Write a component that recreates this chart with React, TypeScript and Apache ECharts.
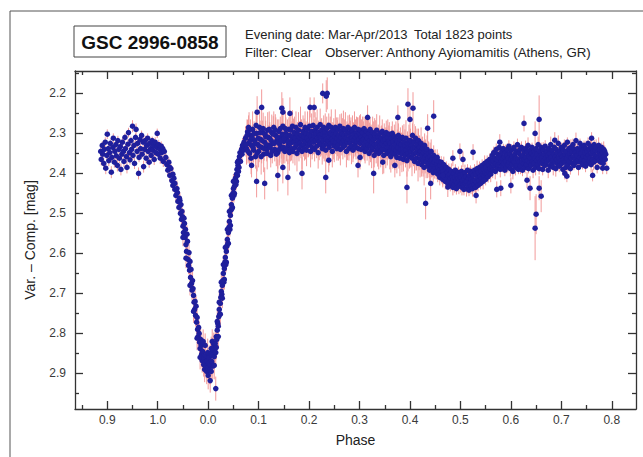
import React, { useEffect, useRef } from "react";
import * as echarts from "echarts";

// Plotted phase coordinate: -0.2 is labelled "0.9", -0.1 "1.0", 0.0 "0.0", ...
const xTickValues = [-0.2, -0.1, 0, 0.1, 0.2, 0.3, 0.4, 0.5, 0.6, 0.7, 0.8];
const xTickLabels = ["0.9", "1.0", "0.0", "0.1", "0.2", "0.3", "0.4", "0.5", "0.6", "0.7", "0.8"];
const xMinorValues = [-0.25, -0.15, -0.05, 0.05, 0.15, 0.25, 0.35, 0.45, 0.55, 0.65, 0.75];
const yTickValues = [2.2, 2.3, 2.4, 2.5, 2.6, 2.7, 2.8, 2.9];
const yMinorValues = [2.15, 2.25, 2.35, 2.45, 2.55, 2.65, 2.75, 2.85, 2.95];

// [phase, Var-Comp mag, error]
const preEclipse = [
  [-0.213,2.345,.012],[-0.212,2.365,.015],[-0.210,2.330,.01],[-0.209,2.352,.012],[-0.207,2.375,.015],[-0.206,2.340,.01],[-0.204,2.322,.012],[-0.203,2.387,.015],[-0.201,2.355,.01],[-0.200,2.302,.012],
  [-0.198,2.338,.01],[-0.197,2.368,.014],[-0.195,2.348,.012],[-0.194,2.325,.01],[-0.192,2.397,.015],[-0.191,2.360,.012],[-0.189,2.335,.01],[-0.188,2.312,.012],[-0.186,2.372,.014],[-0.185,2.345,.01],
  [-0.183,2.328,.012],[-0.182,2.356,.01],[-0.180,2.380,.015],[-0.179,2.318,.012],[-0.177,2.340,.01],[-0.176,2.362,.012],[-0.174,2.333,.01],[-0.173,2.390,.015],[-0.171,2.352,.012],[-0.170,2.322,.01],
  [-0.168,2.345,.012],[-0.167,2.370,.014],[-0.165,2.310,.01],[-0.164,2.338,.012],[-0.162,2.358,.01],[-0.161,2.385,.015],[-0.159,2.327,.012],[-0.158,2.298,.012],[-0.156,2.348,.01],[-0.155,2.366,.012],
  [-0.153,2.318,.01],[-0.152,2.340,.012],[-0.150,2.282,.015],[-0.149,2.355,.01],[-0.147,2.330,.012],[-0.146,2.375,.014],[-0.144,2.310,.01],[-0.143,2.290,.015],[-0.141,2.345,.012],[-0.140,2.325,.01],
  [-0.138,2.400,.015],[-0.137,2.360,.012],[-0.135,2.315,.01],[-0.134,2.338,.012],[-0.132,2.305,.012],[-0.131,2.352,.01],[-0.129,2.322,.012],[-0.128,2.383,.015],[-0.126,2.340,.01],[-0.125,2.318,.012],
  [-0.123,2.362,.012],[-0.122,2.330,.01],[-0.120,2.312,.012],[-0.119,2.345,.01],[-0.117,2.372,.014],[-0.116,2.325,.012],[-0.114,2.338,.01],[-0.113,2.355,.012],[-0.111,2.318,.01],[-0.110,2.342,.012],
  [-0.108,2.330,.01],[-0.107,2.365,.014],[-0.105,2.322,.012],[-0.104,2.348,.01],[-0.102,2.335,.012],[-0.101,2.300,.012],[-0.099,2.352,.01],[-0.098,2.328,.012],[-0.096,2.340,.01],[-0.095,2.362,.014],
  [-0.093,2.332,.012],[-0.092,2.348,.01],[-0.090,2.338,.012],[-0.089,2.370,.014],[-0.087,2.345,.012]
];

const ingress = [
  [-0.084,2.360,.015],[-0.082,2.378,.012],[-0.080,2.392,.015],[-0.078,2.372,.012],[-0.076,2.405,.015],[-0.074,2.388,.012],[-0.072,2.418,.018],[-0.070,2.430,.015],[-0.068,2.412,.015],[-0.066,2.440,.018],
  [-0.064,2.455,.015],[-0.062,2.438,.02],[-0.060,2.470,.018],[-0.058,2.485,.015],[-0.056,2.468,.02],[-0.055,2.500,.018],[-0.053,2.515,.02],[-0.052,2.495,.015],[-0.050,2.532,.02],[-0.049,2.548,.018],
  [-0.047,2.525,.02],[-0.046,2.560,.022],[-0.044,2.578,.02],[-0.043,2.595,.018],[-0.041,2.570,.022],[-0.040,2.615,.02],[-0.039,2.630,.022],[-0.037,2.642,.02],[-0.036,2.620,.025],[-0.035,2.660,.022],
  [-0.033,2.675,.02],[-0.032,2.692,.025],[-0.031,2.668,.022],[-0.029,2.705,.025],[-0.028,2.722,.022],[-0.027,2.740,.025],[-0.025,2.755,.028],[-0.024,2.732,.025],[-0.023,2.772,.028],[-0.021,2.790,.025],
  [-0.020,2.808,.03],[-0.019,2.785,.028],[-0.017,2.822,.03],[-0.016,2.838,.028],[-0.015,2.815,.03],[-0.013,2.852,.032],[-0.012,2.868,.03],[-0.011,2.845,.032],[-0.009,2.878,.03],
  [-0.076,2.385,.015],[-0.070,2.402,.018],[-0.066,2.425,.015],[-0.061,2.448,.02],[-0.057,2.462,.018],[-0.054,2.478,.02],[-0.051,2.508,.02],[-0.048,2.512,.022],[-0.045,2.540,.02],[-0.042,2.552,.022],
  [-0.038,2.598,.022],[-0.034,2.640,.025],[-0.030,2.688,.025],[-0.026,2.720,.028],[-0.022,2.760,.028],[-0.018,2.800,.03],[-0.014,2.830,.03],[-0.010,2.858,.03],
  [-0.050,2.560,.022],[-0.044,2.612,.025],[-0.036,2.680,.025],[-0.029,2.745,.028],[-0.022,2.812,.03],[-0.016,2.860,.03]
];

const primaryMinimum = [
  [-0.008,2.862,.03],[-0.007,2.890,.032],[-0.006,2.872,.03],[-0.005,2.855,.035],[-0.004,2.882,.03],[-0.003,2.895,.032],[-0.002,2.868,.03],[-0.001,2.848,.035],[0.000,2.885,.03],[0.001,2.875,.032],
  [0.002,2.860,.03],[0.003,2.892,.035],[0.004,2.878,.03],[0.005,2.850,.032],[0.006,2.838,.03],[0.007,2.870,.035],[0.008,2.855,.03],[0.009,2.882,.032],[0.010,2.842,.03],[0.011,2.828,.03],
  [0.004,2.918,.03],[0.015,2.938,.03],[-0.006,2.830,.03],[0.000,2.905,.035],[0.006,2.895,.03],[-0.010,2.820,.03],[0.008,2.820,.03],[0.012,2.880,.035]
];

const egress = [
  [0.012,2.858,.03],[0.013,2.840,.03],[0.014,2.825,.032],[0.015,2.848,.03],[0.016,2.808,.028],[0.017,2.815,.03],[0.018,2.792,.028],[0.019,2.775,.025],[0.020,2.782,.028],[0.021,2.758,.025],
  [0.022,2.740,.025],[0.023,2.752,.028],[0.024,2.725,.025],[0.025,2.710,.022],[0.026,2.695,.025],[0.027,2.702,.022],[0.028,2.680,.022],[0.029,2.668,.025],[0.030,2.650,.022],[0.031,2.672,.02],
  [0.032,2.638,.022],[0.033,2.622,.02],[0.034,2.610,.022],[0.035,2.628,.02],[0.036,2.595,.02],[0.037,2.582,.022],[0.038,2.565,.02],[0.039,2.575,.018],[0.040,2.548,.02],[0.041,2.535,.018],
  [0.042,2.520,.02],[0.043,2.540,.018],[0.044,2.505,.02],[0.045,2.492,.018],[0.046,2.478,.015],[0.047,2.488,.018],[0.048,2.462,.015],[0.049,2.450,.018],[0.050,2.438,.015],[0.051,2.455,.018],
  [0.052,2.432,.015],[0.053,2.422,.018],[0.054,2.412,.015],[0.055,2.428,.015],[0.056,2.402,.018],[0.057,2.390,.015],[0.058,2.405,.015],[0.059,2.380,.018],[0.060,2.368,.015],[0.061,2.385,.015],
  [0.062,2.358,.018],[0.063,2.348,.015],[0.064,2.370,.015],[0.066,2.340,.018],[0.067,2.352,.015],[0.068,2.330,.018],[0.070,2.342,.015],[0.071,2.322,.018],[0.072,2.332,.015],
  [0.016,2.835,.03],[0.020,2.808,.028],[0.024,2.752,.028],[0.028,2.712,.025],[0.032,2.665,.025],[0.036,2.622,.022],[0.040,2.575,.022],[0.044,2.530,.02],[0.048,2.485,.02],[0.052,2.450,.018],
  [0.056,2.420,.018],[0.060,2.395,.015],[0.018,2.770,.028],[0.022,2.722,.025],[0.026,2.672,.025],[0.030,2.628,.022],[0.034,2.585,.022],[0.038,2.540,.02],[0.042,2.495,.02],[0.046,2.455,.018],
  [0.050,2.420,.018],[0.058,2.372,.015]
];

const plateauA = [
  [0.074,2.312,.03],[0.076,2.338,.04],[0.078,2.296,.03],[0.080,2.325,.045],[0.082,2.350,.03],[0.084,2.305,.04],[0.086,2.330,.03],[0.088,2.290,.045],[0.090,2.342,.03],[0.092,2.318,.04],
  [0.094,2.358,.03],[0.096,2.300,.045],[0.098,2.327,.03],[0.100,2.345,.04],[0.102,2.285,.045],[0.104,2.315,.03],[0.106,2.335,.04],[0.108,2.298,.03],[0.110,2.352,.045],[0.112,2.322,.03],
  [0.114,2.308,.04],[0.116,2.340,.03],[0.118,2.292,.045],[0.120,2.330,.03],[0.122,2.312,.04],[0.124,2.355,.03],[0.126,2.298,.045],[0.128,2.325,.03],[0.130,2.285,.04],[0.132,2.340,.03],
  [0.134,2.305,.045],[0.136,2.318,.03],[0.138,2.348,.04],[0.140,2.295,.03],[0.142,2.328,.045],[0.144,2.310,.03],[0.146,2.338,.04],[0.148,2.282,.03],[0.150,2.320,.045],[0.152,2.345,.03],
  [0.154,2.300,.04],[0.156,2.315,.03],[0.158,2.332,.045],[0.160,2.290,.03],
  [0.075,2.328,.03],[0.077,2.305,.04],[0.079,2.345,.03],[0.081,2.292,.045],[0.083,2.318,.03],[0.085,2.362,.04],[0.087,2.310,.03],[0.089,2.335,.045],[0.091,2.300,.03],[0.093,2.325,.04],
  [0.095,2.280,.03],[0.097,2.350,.045],[0.099,2.312,.03],[0.101,2.332,.04],[0.103,2.298,.03],[0.105,2.358,.045],[0.107,2.318,.03],[0.109,2.288,.04],[0.111,2.338,.03],[0.113,2.302,.045],
  [0.115,2.328,.03],[0.117,2.350,.04],[0.119,2.310,.03],[0.121,2.290,.045],[0.123,2.335,.03],[0.125,2.318,.04],[0.127,2.345,.03],[0.129,2.302,.045],[0.131,2.325,.03],[0.133,2.292,.04],
  [0.135,2.352,.03],[0.137,2.310,.045],[0.139,2.322,.03],[0.141,2.340,.04],[0.143,2.288,.03],[0.145,2.318,.045],[0.147,2.302,.03],[0.149,2.335,.04],[0.151,2.312,.03],[0.153,2.288,.045],
  [0.155,2.340,.03],[0.157,2.305,.04],[0.159,2.322,.03],[0.161,2.348,.045]
];

const plateauB = [
  [0.162,2.305,.03],[0.163,2.325,.045],[0.164,2.292,.04],[0.165,2.338,.03],[0.166,2.315,.045],[0.167,2.282,.04],[0.168,2.345,.03],[0.169,2.308,.045],[0.170,2.322,.03],[0.171,2.298,.04],
  [0.172,2.335,.045],[0.173,2.312,.03],[0.174,2.285,.04],[0.175,2.328,.03],[0.176,2.350,.045],[0.177,2.302,.03],[0.178,2.318,.04],[0.179,2.292,.045],[0.180,2.340,.03],[0.181,2.310,.04],
  [0.182,2.325,.03],[0.183,2.278,.045],[0.184,2.332,.03],[0.185,2.305,.04],[0.186,2.345,.045],[0.187,2.315,.03],[0.188,2.295,.04],[0.189,2.328,.03],[0.190,2.308,.045],[0.191,2.338,.03],
  [0.192,2.285,.04],[0.193,2.320,.045],[0.194,2.300,.03],[0.195,2.342,.04],[0.196,2.312,.03],[0.197,2.290,.045],[0.198,2.330,.03],[0.199,2.318,.04],[0.200,2.302,.03],[0.201,2.282,.045],
  [0.202,2.325,.03],[0.203,2.345,.04],[0.204,2.308,.03],[0.205,2.295,.045],[0.206,2.335,.03],[0.207,2.315,.04],[0.208,2.280,.045],[0.209,2.322,.03],[0.210,2.305,.04],[0.211,2.340,.03],
  [0.212,2.292,.045],[0.213,2.318,.03],[0.214,2.300,.04],[0.215,2.332,.03],[0.216,2.285,.045],[0.217,2.312,.03],[0.218,2.348,.04],[0.219,2.298,.03],[0.220,2.322,.045],[0.221,2.305,.03],
  [0.222,2.278,.04],[0.223,2.328,.03],[0.224,2.310,.045],[0.225,2.292,.03],[0.226,2.338,.04],[0.227,2.302,.03],[0.228,2.318,.045],[0.229,2.285,.03],[0.230,2.330,.04],[0.231,2.308,.03],
  [0.232,2.295,.045],[0.233,2.342,.03],[0.234,2.315,.04],[0.235,2.288,.03],[0.236,2.325,.045],[0.237,2.302,.03],[0.238,2.318,.04],[0.239,2.280,.03],[0.240,2.335,.045],[0.241,2.310,.03],
  [0.242,2.298,.04],[0.243,2.325,.03],[0.244,2.285,.045],[0.245,2.315,.03],[0.246,2.345,.04],[0.247,2.302,.03],[0.248,2.320,.045],[0.249,2.292,.03],[0.250,2.332,.04],[0.251,2.308,.03],
  [0.252,2.285,.045],[0.253,2.322,.03],[0.254,2.300,.04],[0.255,2.338,.03],[0.256,2.312,.045],[0.257,2.290,.03],[0.258,2.328,.04],[0.259,2.305,.03],[0.260,2.318,.045],[0.261,2.282,.03],
  [0.262,2.340,.04],[0.263,2.310,.03],[0.264,2.295,.045],[0.265,2.325,.03],[0.266,2.302,.04],[0.267,2.335,.03],[0.268,2.288,.045],[0.269,2.318,.03],[0.270,2.305,.04],[0.271,2.330,.03],
  [0.272,2.292,.045],[0.273,2.312,.03],[0.274,2.345,.04],[0.275,2.300,.03],[0.276,2.322,.045],[0.277,2.285,.03],[0.278,2.315,.04],[0.279,2.338,.03],[0.280,2.298,.045],[0.281,2.325,.03],
  [0.282,2.308,.04],[0.283,2.290,.03],[0.284,2.332,.045],[0.285,2.312,.03],[0.286,2.295,.04],[0.287,2.342,.03],[0.288,2.318,.045],[0.289,2.302,.03],[0.290,2.285,.04],[0.291,2.328,.03],
  [0.292,2.310,.045],[0.293,2.335,.03],[0.294,2.298,.04],[0.295,2.320,.03],[0.296,2.305,.045],[0.297,2.290,.03],[0.298,2.338,.04],[0.299,2.315,.03],[0.300,2.300,.045]
];

const plateauC = [
  [0.301,2.325,.03],[0.302,2.292,.04],[0.303,2.340,.03],[0.304,2.310,.045],[0.305,2.318,.03],[0.306,2.298,.04],[0.307,2.335,.03],[0.308,2.315,.045],[0.309,2.288,.03],[0.310,2.328,.04],
  [0.311,2.345,.03],[0.312,2.305,.045],[0.313,2.320,.03],[0.314,2.295,.04],[0.315,2.338,.03],[0.316,2.312,.045],[0.317,2.328,.03],[0.318,2.300,.04],[0.319,2.350,.03],[0.320,2.318,.045],
  [0.321,2.290,.03],[0.322,2.332,.04],[0.323,2.308,.03],[0.324,2.342,.045],[0.325,2.322,.03],[0.326,2.298,.04],[0.327,2.335,.03],[0.328,2.315,.045],[0.329,2.355,.03],[0.330,2.302,.04],
  [0.331,2.328,.03],[0.332,2.312,.045],[0.333,2.345,.03],[0.334,2.292,.04],[0.335,2.325,.03],[0.336,2.338,.045],[0.337,2.308,.03],[0.338,2.350,.04],[0.339,2.318,.03],[0.340,2.300,.045],
  [0.341,2.332,.03],[0.342,2.345,.04],[0.343,2.312,.03],[0.344,2.325,.045],[0.345,2.295,.03],[0.346,2.340,.04],[0.347,2.318,.03],[0.348,2.355,.045],[0.349,2.305,.03],[0.350,2.330,.04],
  [0.351,2.315,.03],[0.352,2.342,.045],[0.353,2.298,.03],[0.354,2.325,.04],[0.355,2.350,.03],[0.356,2.310,.045],[0.357,2.335,.03],[0.358,2.320,.04],[0.359,2.302,.03],[0.360,2.345,.045],
  [0.361,2.325,.03],[0.362,2.358,.04],[0.363,2.312,.03],[0.364,2.335,.045],[0.365,2.300,.03],[0.366,2.348,.04],[0.367,2.322,.03],[0.368,2.338,.045],[0.369,2.308,.03],[0.370,2.352,.04],
  [0.371,2.328,.03],[0.372,2.315,.045],[0.373,2.342,.03],[0.374,2.360,.04],[0.375,2.320,.03],[0.376,2.335,.045],[0.377,2.305,.03],[0.378,2.348,.04],[0.379,2.325,.03],[0.380,2.362,.045],
  [0.381,2.315,.03],[0.382,2.340,.04],[0.383,2.328,.03],[0.384,2.352,.045],[0.385,2.310,.03],[0.386,2.338,.04],[0.387,2.365,.03],[0.388,2.322,.045],[0.389,2.345,.03],[0.390,2.330,.04],
  [0.391,2.355,.03],[0.392,2.312,.045],[0.393,2.342,.03],[0.394,2.368,.04],[0.395,2.325,.03],[0.396,2.350,.045],[0.397,2.335,.03],[0.398,2.318,.04],[0.399,2.358,.03],[0.400,2.340,.045]
];

const decline = [
  [0.401,2.318,.03],[0.402,2.345,.04],[0.403,2.330,.03],[0.404,2.362,.045],[0.405,2.305,.03],[0.406,2.338,.04],[0.407,2.352,.03],[0.408,2.322,.045],[0.409,2.370,.03],[0.410,2.335,.04],
  [0.411,2.312,.03],[0.412,2.348,.045],[0.413,2.362,.03],[0.414,2.328,.04],[0.415,2.340,.03],[0.416,2.375,.045],[0.417,2.318,.03],[0.418,2.352,.04],[0.419,2.335,.03],[0.420,2.365,.045],
  [0.421,2.345,.03],[0.422,2.325,.04],[0.423,2.378,.03],[0.424,2.355,.045],[0.425,2.338,.03],[0.426,2.368,.04],[0.427,2.348,.03],[0.428,2.385,.045],[0.429,2.330,.03],[0.430,2.360,.04],
  [0.431,2.345,.03],[0.432,2.372,.04],[0.433,2.355,.03],[0.434,2.340,.035],[0.435,2.382,.03],[0.436,2.362,.04],[0.437,2.350,.03],[0.438,2.375,.035],[0.439,2.392,.03],[0.440,2.358,.035],
  [0.441,2.370,.025],[0.442,2.345,.03],[0.443,2.385,.025],[0.444,2.365,.025],[0.445,2.378,.03],[0.446,2.398,.025],[0.447,2.355,.025],[0.448,2.372,.03],[0.449,2.388,.025],[0.450,2.365,.025],
  [0.452,2.395,.02],[0.453,2.378,.015],[0.454,2.360,.02],[0.455,2.402,.02],[0.456,2.385,.015],[0.457,2.370,.02],[0.458,2.392,.015],[0.459,2.410,.02],[0.460,2.380,.015],[0.461,2.398,.02],
  [0.462,2.372,.015],[0.463,2.405,.02],[0.464,2.388,.015],[0.465,2.415,.02],[0.466,2.395,.015],[0.467,2.378,.02],[0.468,2.408,.015],[0.469,2.392,.015],[0.470,2.420,.02],[0.471,2.400,.015],
  [0.472,2.385,.015],[0.473,2.412,.02],[0.474,2.398,.015],[0.475,2.425,.015],[0.476,2.405,.02],[0.477,2.390,.015],[0.478,2.418,.015],[0.479,2.402,.02],[0.480,2.430,.015],[0.481,2.412,.015],
  [0.482,2.395,.02],[0.483,2.422,.015],[0.484,2.408,.015],[0.485,2.435,.02],[0.486,2.415,.015],[0.487,2.400,.015],[0.488,2.428,.02],[0.489,2.410,.015],[0.490,2.392,.015],[0.491,2.420,.02],
  [0.492,2.438,.015],[0.493,2.405,.015],[0.494,2.425,.02],[0.495,2.412,.015],[0.496,2.398,.015],[0.497,2.432,.02],[0.498,2.418,.015],[0.499,2.405,.015],[0.500,2.428,.02]
];

const secondaryMinimum = [
  [0.501,2.410,.015],[0.502,2.395,.015],[0.503,2.435,.02],[0.504,2.418,.015],[0.505,2.402,.015],[0.506,2.428,.02],[0.507,2.440,.015],[0.508,2.412,.015],[0.509,2.398,.02],[0.510,2.425,.015],
  [0.511,2.408,.015],[0.512,2.438,.02],[0.513,2.420,.015],[0.514,2.392,.015],[0.515,2.430,.02],[0.516,2.412,.015],[0.517,2.442,.015],[0.518,2.405,.02],[0.519,2.425,.015],[0.520,2.395,.015],
  [0.521,2.432,.02],[0.522,2.415,.015],[0.523,2.400,.015],[0.524,2.438,.02],[0.525,2.420,.015],[0.526,2.405,.015],[0.527,2.428,.02],[0.528,2.392,.015],[0.529,2.418,.015],[0.530,2.435,.02],
  [0.531,2.402,.015],[0.532,2.422,.015],[0.533,2.388,.02],[0.534,2.412,.015],[0.535,2.430,.015],[0.536,2.398,.02],[0.537,2.418,.015],[0.538,2.385,.015],[0.539,2.408,.02],[0.540,2.425,.015],
  [0.541,2.395,.015],[0.542,2.412,.02],[0.543,2.380,.015],[0.544,2.402,.015],[0.545,2.420,.02],[0.546,2.390,.015],[0.547,2.405,.015],[0.548,2.375,.02],[0.549,2.398,.015],[0.550,2.415,.015],
  [0.551,2.385,.02],[0.552,2.400,.015],[0.553,2.370,.015],[0.554,2.392,.02],[0.555,2.408,.015],[0.556,2.378,.015],[0.557,2.395,.02],[0.558,2.365,.015],[0.559,2.388,.015],[0.560,2.402,.02]
];

const postSecondary = [
  [0.561,2.372,.015],[0.562,2.385,.012],[0.563,2.355,.015],[0.564,2.392,.02],[0.565,2.368,.012],[0.566,2.348,.015],[0.567,2.380,.012],[0.568,2.362,.015],[0.569,2.395,.02],[0.570,2.375,.012],
  [0.571,2.340,.015],[0.572,2.365,.012],[0.573,2.388,.015],[0.574,2.352,.02],[0.575,2.378,.012],[0.576,2.360,.015],[0.577,2.335,.012],[0.578,2.372,.015],[0.579,2.390,.02],[0.580,2.355,.012],
  [0.581,2.368,.015],[0.582,2.345,.012],[0.583,2.382,.015],[0.584,2.362,.02],[0.585,2.338,.012],[0.586,2.375,.015],[0.587,2.358,.012],[0.588,2.392,.015],[0.589,2.348,.02],[0.590,2.370,.012],
  [0.591,2.385,.015],[0.592,2.355,.012],[0.593,2.340,.015],[0.594,2.378,.02],[0.595,2.362,.012],[0.596,2.332,.015],[0.597,2.372,.012],[0.598,2.350,.015],[0.599,2.388,.02],[0.600,2.365,.012],
  [0.601,2.342,.015],[0.602,2.378,.012],[0.603,2.358,.015],[0.604,2.395,.02],[0.605,2.368,.012],[0.606,2.335,.015],[0.607,2.372,.012],[0.608,2.352,.015],[0.609,2.385,.02],[0.610,2.362,.012],
  [0.611,2.345,.015],[0.612,2.380,.012],[0.613,2.328,.015],[0.614,2.365,.02],[0.615,2.390,.012],[0.616,2.350,.015],[0.617,2.372,.012],[0.618,2.340,.015],[0.619,2.382,.02],[0.620,2.358,.012],
  [0.621,2.335,.015],[0.622,2.370,.012],[0.623,2.392,.015],[0.624,2.355,.02],[0.625,2.375,.012],[0.626,2.345,.015],[0.627,2.365,.012],[0.628,2.385,.015],[0.629,2.338,.02],[0.630,2.360,.012],
  [0.631,2.378,.015],[0.632,2.348,.012],[0.633,2.368,.015],[0.634,2.330,.02],[0.635,2.388,.012],[0.636,2.358,.015],[0.637,2.372,.012],[0.638,2.342,.015],[0.639,2.362,.02],[0.640,2.380,.012],
  [0.641,2.350,.015],[0.642,2.335,.012],[0.643,2.370,.015],[0.644,2.392,.02],[0.645,2.355,.012],[0.646,2.375,.015],[0.647,2.345,.012],[0.648,2.362,.015],[0.649,2.385,.02],[0.650,2.338,.012],
  [0.651,2.368,.015],[0.652,2.352,.012],[0.653,2.378,.015],[0.654,2.328,.02],[0.655,2.362,.012],[0.656,2.388,.015],[0.657,2.345,.012],[0.658,2.372,.015],[0.659,2.355,.02],[0.660,2.335,.012],
  [0.661,2.375,.015],[0.662,2.360,.012],[0.663,2.390,.015],[0.664,2.342,.02],[0.665,2.368,.012],[0.666,2.352,.015],[0.667,2.380,.012],[0.668,2.332,.015],[0.669,2.362,.02],[0.670,2.378,.012],
  [0.671,2.345,.015],[0.672,2.370,.012],[0.673,2.355,.015],[0.674,2.392,.02],[0.675,2.338,.012],[0.676,2.365,.015],[0.677,2.350,.012],[0.678,2.382,.015],[0.679,2.328,.02],[0.680,2.360,.012],
  [0.681,2.375,.015],[0.682,2.342,.012],[0.683,2.368,.015],[0.684,2.385,.02],[0.685,2.352,.012],[0.686,2.335,.015],[0.687,2.372,.012],[0.688,2.358,.015],[0.689,2.388,.02],[0.690,2.340,.012],
  [0.691,2.365,.015],[0.692,2.348,.012],[0.693,2.378,.015],[0.694,2.325,.02],[0.695,2.360,.012],[0.696,2.382,.015],[0.697,2.345,.012],[0.698,2.370,.015],[0.699,2.352,.02],[0.700,2.335,.012],
  [0.701,2.375,.015],[0.702,2.358,.012],[0.703,2.390,.015],[0.704,2.342,.02],[0.705,2.365,.012],[0.706,2.330,.015],[0.707,2.372,.012],[0.708,2.352,.015],[0.709,2.385,.02],[0.710,2.345,.012],
  [0.711,2.362,.015],[0.712,2.322,.012],[0.713,2.378,.015],[0.714,2.355,.02],[0.715,2.338,.012],[0.716,2.370,.015],[0.717,2.350,.012],[0.718,2.388,.015],[0.719,2.335,.02],[0.720,2.362,.012],
  [0.721,2.345,.015],[0.722,2.375,.012],[0.723,2.328,.015],[0.724,2.358,.02],[0.725,2.380,.012],[0.726,2.340,.015],[0.727,2.365,.012],[0.728,2.348,.015],[0.729,2.318,.02],[0.730,2.372,.012],
  [0.731,2.355,.015],[0.732,2.338,.012],[0.733,2.368,.015],[0.734,2.385,.02],[0.735,2.345,.012],[0.736,2.360,.015],[0.737,2.325,.012],[0.738,2.372,.015],[0.739,2.350,.02],[0.740,2.335,.012],
  [0.741,2.365,.015],[0.742,2.378,.012],[0.743,2.342,.015],[0.744,2.358,.02],[0.745,2.330,.012],[0.746,2.368,.015],[0.747,2.348,.012],[0.748,2.382,.015],[0.749,2.338,.02],[0.750,2.360,.012],
  [0.751,2.345,.015],[0.752,2.375,.012],[0.753,2.325,.015],[0.754,2.355,.02],[0.755,2.368,.012],[0.756,2.340,.015],[0.757,2.362,.012],[0.758,2.332,.015],[0.759,2.378,.02],[0.760,2.350,.012],
  [0.761,2.338,.015],[0.762,2.365,.012],[0.763,2.345,.015],[0.764,2.372,.02],[0.765,2.328,.012],[0.766,2.355,.015],[0.767,2.342,.012],[0.768,2.368,.015],[0.769,2.335,.02],[0.770,2.358,.012],
  [0.771,2.385,.015],[0.772,2.345,.012],[0.773,2.362,.015],[0.774,2.330,.02],[0.775,2.368,.012],[0.776,2.350,.015],[0.777,2.340,.012],[0.778,2.372,.015],[0.779,2.355,.02],[0.780,2.335,.012],
  [0.781,2.362,.015],[0.782,2.348,.012],[0.783,2.375,.015],[0.784,2.340,.02],[0.785,2.358,.012],[0.786,2.345,.015],[0.787,2.365,.012],[0.788,2.352,.015]
];

const outliers = [
  [0.227,2.200,.025],[0.236,2.200,.04],[0.234,2.207,.04],[0.097,2.247,.04],[0.106,2.235,.045],[0.146,2.237,.04],[0.148,2.247,.035],
  [0.202,2.235,.025],[0.210,2.235,.025],[0.162,2.250,.04],[0.396,2.227,.04],[0.406,2.237,.04],[0.400,2.265,.04],[0.376,2.260,.03],
  [0.316,2.260,.03],[0.080,2.285,.03],[0.447,2.257,.04],[0.435,2.287,.035],
  [0.096,2.420,.04],[0.112,2.425,.04],[0.158,2.410,.045],[0.186,2.400,.04],[0.233,2.410,.04],[0.297,2.380,.03],[0.328,2.400,.05],
  [0.394,2.435,.04],[0.431,2.475,.04],[0.441,2.425,.04],[0.465,2.405,.025],[0.475,2.434,.025],[0.086,2.380,.03],[0.138,2.405,.04],
  [0.148,2.385,.04],[0.239,2.367,.03],[0.301,2.360,.03],[0.346,2.372,.03],[0.370,2.380,.03],
  [0.626,2.275,.02],[0.656,2.265,.06],[0.648,2.300,.03],[0.687,2.317,.02],[0.648,2.537,.08],[0.650,2.502,.05],[0.660,2.457,.04],
  [0.656,2.437,.03],[0.638,2.437,.03],[0.632,2.417,.02],[0.580,2.437,.02],[0.572,2.440,.02],[0.600,2.430,.02],[0.531,2.455,.02],
  [0.762,2.405,.015],[0.782,2.387,.015],[0.790,2.387,.015],[0.760,2.312,.015],[0.578,2.322,.02],[0.525,2.347,.02],[0.499,2.345,.02],
  [0.485,2.362,.02],[0.505,2.365,.02],[0.711,2.407,.015],[0.707,2.400,.015]
];

const allPoints = [
  ...preEclipse, ...ingress, ...primaryMinimum, ...egress, ...plateauA, ...plateauB,
  ...plateauC, ...decline, ...secondaryMinimum, ...postSecondary, ...outliers
];

const AXIS_COLOR = "#333";
const LABEL_COLOR = "#3a3a3a";
const FONT = "'Liberation Sans', Arial, sans-serif";

function App() {
  const ref = useRef<HTMLDivElement>(null);
  useEffect(() => {
    if (!ref.current) return;
    const chart = echarts.init(ref.current, undefined, { renderer: "svg" });
    const X_MIN = -0.264, X_MAX = 0.848, Y_MIN = 2.144, Y_MAX = 2.989;
    const baseX = (pos: string, minor: boolean, show: boolean, extra: any = {}) => ({
      type: "value", position: pos, min: X_MIN, max: X_MAX, gridIndex: 0,
      axisLine: { show, onZero: false, lineStyle: { color: AXIS_COLOR, width: 1.3 } },
      axisTick: { show: true, inside: true, length: minor ? 4 : 8, customValues: minor ? xMinorValues : xTickValues, lineStyle: { color: AXIS_COLOR, width: 1.3 } },
      axisLabel: { show: false },
      splitLine: { show: false },
      ...extra,
    });
    const baseY = (pos: string, minor: boolean, show: boolean, extra: any = {}) => ({
      type: "value", position: pos, min: Y_MIN, max: Y_MAX, inverse: true, gridIndex: 0,
      axisLine: { show, onZero: false, lineStyle: { color: AXIS_COLOR, width: 1.3 } },
      axisTick: { show: true, inside: true, length: minor ? 4 : 8, customValues: minor ? yMinorValues : yTickValues, lineStyle: { color: AXIS_COLOR, width: 1.3 } },
      axisLabel: { show: false },
      splitLine: { show: false },
      ...extra,
    });
    chart.setOption({
      animation: false,
      backgroundColor: "#fff",
      grid: { left: 75, top: 71, right: 7, bottom: 48, containLabel: false, outerBoundsMode: "none" },
      xAxis: [
        baseX("bottom", false, true, {
          name: "Phase", nameLocation: "middle", nameGap: 24,
          nameTextStyle: { fontSize: 14, color: "#222", fontFamily: FONT },
          axisLabel: {
            show: true, customValues: xTickValues, margin: 5, fontSize: 12, color: LABEL_COLOR, fontFamily: FONT,
            formatter: (v: number) => {
              const i = xTickValues.findIndex((t) => Math.abs(t - v) < 1e-6);
              return i >= 0 ? xTickLabels[i] : "";
            },
          },
        }),
        baseX("bottom", true, false),
        baseX("top", false, true),
        baseX("top", true, false),
      ],
      yAxis: [
        baseY("left", false, true, {
          name: "Var. \u2013 Comp. [mag]", nameLocation: "middle", nameGap: 38, nameRotate: 90,
          nameTextStyle: { fontSize: 14, color: "#222", fontFamily: FONT },
          axisLabel: {
            show: true, customValues: yTickValues, margin: 9, fontSize: 12, color: LABEL_COLOR, fontFamily: FONT,
            formatter: (v: number) => v.toFixed(1),
          },
        }),
        baseY("left", true, false),
        baseY("right", false, true),
        baseY("right", true, false),
      ],
      series: [
        {
          type: "custom",
          xAxisIndex: 0, yAxisIndex: 0,
          silent: true,
          encode: { x: 0, y: 1 },
          data: allPoints,
          z: 2,
          renderItem: (params: any, api: any) => {
            const x = api.value(0), y = api.value(1), e = api.value(2);
            const p1 = api.coord([x, y - e]);
            const p2 = api.coord([x, y + e]);
            return {
              type: "line",
              shape: { x1: p1[0], y1: p1[1], x2: p2[0], y2: p2[1] },
              style: { stroke: "#f29a9a", lineWidth: 1 },
            };
          },
        },
        {
          type: "scatter",
          xAxisIndex: 0, yAxisIndex: 0,
          silent: true,
          data: allPoints.map((p) => [p[0], p[1]]),
          symbol: "circle",
          symbolSize: 5.5,
          itemStyle: { color: "#1f1f9c", opacity: 1 },
          z: 3,
        },
      ],
      graphic: [
        { type: "line", shape: { x1: 10, y1: 11, x2: 643, y2: 11 }, style: { stroke: "#555", lineWidth: 1 } },
        { type: "line", shape: { x1: 10, y1: 11, x2: 10, y2: 457 }, style: { stroke: "#555", lineWidth: 1 } },
        { type: "rect", shape: { x: 74, y: 26, width: 152, height: 31 }, style: { fill: "#fff", stroke: "#444", lineWidth: 1 } },
        { type: "text", x: 150, y: 42, style: { text: "GSC 2996-0858", font: `bold 19px ${FONT}`, fill: "#111", align: "center", verticalAlign: "middle" } },
        { type: "text", x: 245, y: 34, style: { text: "Evening date: Mar-Apr/2013", font: `13px ${FONT}`, fill: "#222", align: "left", verticalAlign: "middle" } },
        { type: "text", x: 414, y: 34, style: { text: "Total 1823 points", font: `13px ${FONT}`, fill: "#222", align: "left", verticalAlign: "middle" } },
        { type: "text", x: 245, y: 52.5, style: { text: "Filter: Clear", font: `13px ${FONT}`, fill: "#222", align: "left", verticalAlign: "middle" } },
        { type: "text", x: 325, y: 52.5, style: { text: "Observer: Anthony Ayiomamitis (Athens, GR)", font: `13.3px ${FONT}`, fill: "#222", align: "left", verticalAlign: "middle" } },
      ],
    });
    return () => chart.dispose();
  }, []);
  return <div ref={ref} style={{ position: "fixed", left: 0, top: 0, width: 643, height: 457, background: "#fff" }} />;
}

export default App;
